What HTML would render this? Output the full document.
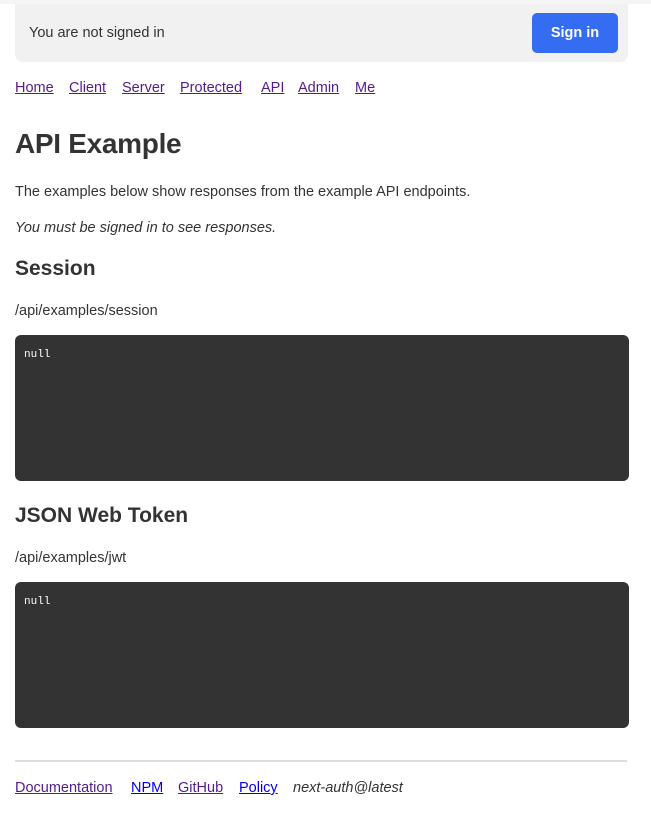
<!DOCTYPE html>
<html><head><style>
*{margin:0;padding:0;box-sizing:border-box}
body{width:651px;height:821px;background:#fff;font-family:"Liberation Sans",sans-serif;color:#333;position:relative;overflow:hidden}
.a{position:absolute;white-space:nowrap}
a{color:#551a8b;text-decoration:underline}
.n{position:absolute;top:80px;font-size:14.5px}
.f{position:absolute;top:780px;font-size:14.5px}
.pre{position:absolute;left:15px;width:614px;height:146px;background:#333;border-radius:6px;color:#fff;font-family:"Liberation Mono",monospace;font-size:11px;padding:14px 9px}
</style></head><body>
<div class="a" style="left:0;top:0;width:651px;height:4px;background:#f5f5f5"></div>
<div class="a" style="left:15px;top:4px;width:613px;height:58px;background:#f1f1f1;border-radius:0 0 8px 8px"></div>
<div class="a" style="left:29px;top:25px;font-size:14.5px">You are not signed in</div>
<div class="a" style="left:532px;top:13px;width:86px;height:40px;background:#346df1;border-radius:5px;color:#fff;font-weight:bold;font-size:14.5px;text-align:center;line-height:40px">Sign in</div>
<a class="n" style="left:15px">Home</a><a class="n" style="left:69px">Client</a><a class="n" style="left:122px">Server</a><a class="n" style="left:180px">Protected</a><a class="n" style="left:261px">API</a><a class="n" style="left:298px">Admin</a><a class="n" style="left:355px">Me</a>
<div class="a" style="left:15px;top:128px;font-size:28px;font-weight:bold;letter-spacing:-0.3px">API Example</div>
<div class="a" style="left:15px;top:184px;font-size:14.5px">The examples below show responses from the example API endpoints.</div>
<div class="a" style="left:15px;top:220px;font-size:14.5px;font-style:italic">You must be signed in to see responses.</div>
<div class="a" style="left:15px;top:257px;font-size:21px;font-weight:bold">Session</div>
<div class="a" style="left:15px;top:303px;font-size:14.5px">/api/examples/session</div>
<div class="pre" style="top:335px">null</div>
<div class="a" style="left:15px;top:504px;font-size:21px;font-weight:bold">JSON Web Token</div>
<div class="a" style="left:15px;top:550px;font-size:14.5px">/api/examples/jwt</div>
<div class="pre" style="top:582px">null</div>
<div class="a" style="left:15px;top:760px;width:612px;height:2px;background:#ddd"></div>
<a class="f" style="left:15px">Documentation</a><a class="f" style="left:131px;color:#0000ee">NPM</a><a class="f" style="left:178px">GitHub</a><a class="f" style="left:239px;color:#0000ee">Policy</a><span class="f" style="left:293px;font-style:italic">next-auth@latest</span>
</body></html>
